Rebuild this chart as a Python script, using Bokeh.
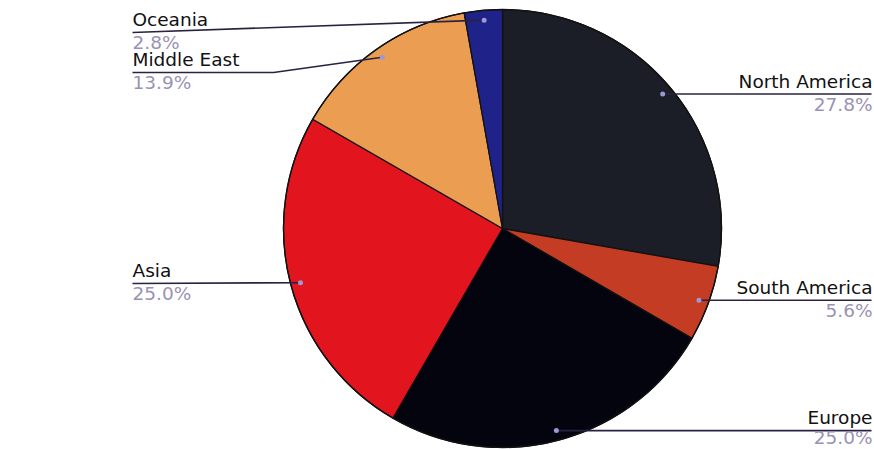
import math
from bokeh.plotting import figure
from bokeh.models import Range1d, ColumnDataSource
from bokeh.embed import file_html
from bokeh.resources import INLINE
from bokeh.core.properties import value

# ---- data ----
regions = ["North America", "South America", "Europe", "Asia", "Middle East", "Oceania"]
shares = [27.8, 5.6, 25.0, 25.0, 13.9, 2.8]
colors = ["#1b1d27", "#c53c24", "#04040e", "#e2141e", "#eb9d52", "#1f2389"]

# ---- layout (screen pixel coordinates of the 874x449 page) ----
W, H = 874, 449
def Y(ys):
    return H - ys

CX, CY = 502, Y(228)
R = 219
DOT_R = 0.955 * R
label_side = ["right", "right", "right", "left", "left", "left"]
left_line_y = {"Asia": 283, "Middle East": 72, "Oceania": 32}
left_elbow_x = {"Asia": 132, "Middle East": 273, "Oceania": 132}
pct_lift = {"Europe": 3}
LEFT_X, RIGHT_X = 132, 871

p = figure(width=W, height=H, x_range=Range1d(0, W), y_range=Range1d(0, H),
           output_backend="svg", toolbar_location=None, min_border=0)
p.axis.visible = False
p.grid.visible = False
p.outline_line_color = None
p.background_fill_color = "white"
p.border_fill_color = "white"

total = sum(shares)
starts, ends, mids = [], [], []
cum = 0.0
for s in shares:
    f0 = cum / total
    f1 = (cum + s) / total
    cum += s
    starts.append(math.radians(90 - f1 * 360))
    ends.append(math.radians(90 - f0 * 360))
    mids.append(math.radians(90 - (f0 + f1) / 2 * 360))

src = ColumnDataSource(dict(start=starts, end=ends, color=colors, region=regions))
p.wedge(x=CX, y=CY, radius=R, start_angle="start", end_angle="end", direction="anticlock",
        fill_color="color", line_color="#121212", line_width=1.3, source=src)
p.circle(x=CX, y=CY, radius=R, fill_color=None, line_color="#121212", line_width=1.3)

dot_x = [CX + DOT_R * math.cos(a) for a in mids]
dot_y = [CY + DOT_R * math.sin(a) for a in mids]

line_xs, line_ys = [], []
name_x, name_y, name_align = [], [], []
pct_x, pct_y, pct_text = [], [], []
for i, reg in enumerate(regions):
    if label_side[i] == "right":
        ly = dot_y[i]
        line_xs.append([dot_x[i], RIGHT_X])
        line_ys.append([ly, ly])
        tx = RIGHT_X + 1
        name_align.append("right")
    else:
        ly = Y(left_line_y[reg])
        ex = left_elbow_x[reg]
        line_xs.append([LEFT_X, ex, dot_x[i]])
        line_ys.append([ly, ly, dot_y[i]])
        tx = LEFT_X
        name_align.append("left")
    name_x.append(tx)
    name_y.append(ly + 13)
    pct_x.append(tx)
    pct_y.append(ly - 10 + pct_lift.get(reg, 0))
    pct_text.append(f"{shares[i]:.1f}%")

p.multi_line(xs=line_xs, ys=line_ys, line_color="#2a2242", line_width=1.6)
p.scatter(x=dot_x, y=dot_y, size=5, fill_color="#9a98d6", line_color=None)

tsrc = ColumnDataSource(dict(x=name_x, y=name_y, t=regions, align=name_align,
                             px=pct_x, py=pct_y, pt=pct_text))
p.text(x="x", y="y", text="t", text_align="align", text_baseline="alphabetic",
       text_font=value("DejaVu Sans"), text_font_size="18.5px", text_color="#111111", source=tsrc)
p.text(x="px", y="py", text="pt", text_align="align", text_baseline="alphabetic",
       text_font=value("DejaVu Sans"), text_font_size="18.5px", text_color="#9a92b4", source=tsrc)

open("out.html", "w").write(file_html(p, INLINE))
